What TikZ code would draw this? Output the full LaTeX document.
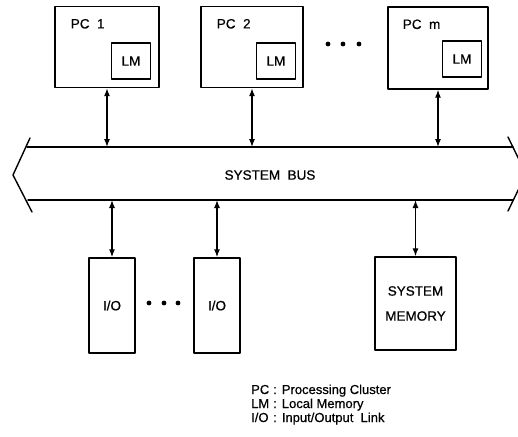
\documentclass[tikz,border=0pt]{standalone}
\usepackage{fontspec}
\setmainfont{Liberation Sans}[BoldFont=Liberation Sans,BoldFeatures={FakeBold=0.6}]
\usetikzlibrary{arrows.meta}
\begin{document}
\begin{tikzpicture}[x=1pt,y=-1pt,line cap=round,line join=round,
  font=\fontsize{13.5}{15}\selectfont\bfseries,
  box/.style={draw,line width=1.4pt,inner sep=0pt},
  link/.style={{Latex[length=8pt,width=6pt]}-{Latex[length=8pt,width=6pt]},line width=1.2pt}]
\useasboundingbox (0,0) rectangle (518,436);
\node[box,minimum width=104,minimum height=81] (pc1) at (107,47) {};
\node[box,minimum width=102,minimum height=81] (pc2) at (252,47) {};
\node[box,minimum width=100,minimum height=82] (pcm) at (438,48) {};
\node[anchor=west] (pc1t) at ([xshift=13pt,yshift=-18pt]pc1.north west) {PC\ \ 1};
\node[anchor=west] (pc2t) at ([xshift=13pt,yshift=-18pt]pc2.north west) {PC\ \ 2};
\node[anchor=west] (pcmt) at ([xshift=12pt,yshift=-18pt]pcm.north west) {PC\ \ m};
\node[box,minimum width=39,minimum height=36] (lm1) at (131,61) {LM};
\node[box,minimum width=39,minimum height=36] (lm2) at (276,61) {LM};
\node[box,minimum width=39,minimum height=36] (lmm) at (462,59) {LM};
\fill (328,44) circle (2.4) (343,44) circle (2.4) (359,44) circle (2.4);
\coordinate (bustop) at (0,147);
\coordinate (busbot) at (0,200);
\draw[line width=1.4pt] (30,138) -- (13,175) -- (32,212);
\draw[line width=1.4pt] (27,147) -- (513,147);
\draw[line width=1.4pt] (28,200) -- (513,200);
\draw[line width=1.4pt] (508,137) -- (526,174) -- (508,211);
\node (bus) at (270,175) {SYSTEM\ \ BUS};
\draw[link] (pc1.south) -- (pc1.south |- bustop);
\draw[link] (pc2.south) -- (pc2.south |- bustop);
\draw[link] (pcm.south) -- (pcm.south |- bustop);
\node[box,minimum width=46,minimum height=95] (io1) at (112,305.5) {I/O};
\node[box,minimum width=46,minimum height=95] (io2) at (217,305.5) {I/O};
\node[box,minimum width=81,minimum height=93,align=center,font=\fontsize{13.5}{25}\selectfont\bfseries] (mem) at (415.5,303.5) {SYSTEM\\MEMORY};
\fill (149,303) circle (2.4) (164,303) circle (2.4) (178,303) circle (2.4);
\draw[link] (io1.north) -- (io1.north |- busbot);
\draw[link] (io2.north) -- (io2.north |- busbot);
\draw[link] (mem.north) -- (mem.north |- busbot);
\node[anchor=north west,inner sep=0pt,font=\fontsize{13}{14}\selectfont\bfseries] (legend) at (251,384)
  {\begin{tabular}{@{}l@{\hspace{4pt}}l@{\hspace{5pt}}l@{}}
   PC & : & Processing\ Cluster\\
   LM & : & Local\ Memory\\
   I/O & : & Input/Output\ \ Link
   \end{tabular}};
\end{tikzpicture}
\end{document}
